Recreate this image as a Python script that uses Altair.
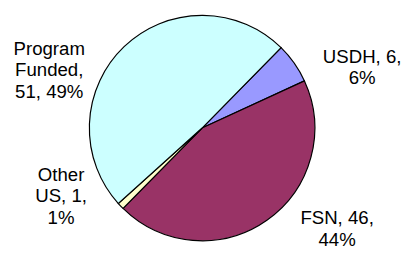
import math
import altair as alt
import pandas as pd

categories = ["USDH", "FSN", "Other US", "Program Funded"]
values = [6, 46, 1, 51]
percents = ["6%", "44%", "1%", "49%"]
colors = ["#9999FF", "#993366", "#FFFFCC", "#CCFFFF"]

# label lines as Excel wrapped them
label_texts = [
    f"USDH, {values[0]},\n{percents[0]}",
    f"FSN, {values[1]},\n{percents[1]}",
    f"Other\nUS, {values[2]},\n{percents[2]}",
    f"Program\nFunded,\n{values[3]}, {percents[3]}",
]

df = pd.DataFrame({
    "cat": categories,
    "val": values,
    "label": label_texts,
    "idx": list(range(len(categories))),
})

start = math.radians(44.5)
theta_scale = alt.Scale(range=[start, start + 2 * math.pi])

CX, CY = 198, 120

base = alt.Chart(df).encode(
    theta=alt.Theta("val:Q", stack=True, scale=theta_scale),
    order=alt.Order("idx:Q"),
)

pie = base.mark_arc(outerRadius=115, stroke="black", strokeWidth=1.2, x=CX, y=CY).encode(
    color=alt.Color("cat:N", scale=alt.Scale(domain=categories, range=colors), legend=None)
)

offsets = {
    "USDH": (57, 2),
    "FSN": (63, -14),
    "Other US": (-50, -42),
    "Program Funded": (-66, 13),
}

layers = [pie]
for c in categories:
    dx, dy = offsets[c]
    layers.append(
        base.mark_text(
            radius=130, dx=dx, dy=dy, x=CX, y=CY, align="center", baseline="middle",
            lineBreak="\n", font="Liberation Sans", fontSize=19, lineHeight=22,
            color="black",
        ).encode(text="label:N", opacity=alt.condition(alt.datum.cat == c, alt.value(1), alt.value(0)))
    )

chart = alt.layer(*layers).properties(
    width=403, height=246, padding=0, autosize="none"
).configure_view(stroke=None)

chart.save("out.html", embed_options={"renderer": "svg", "actions": False})
